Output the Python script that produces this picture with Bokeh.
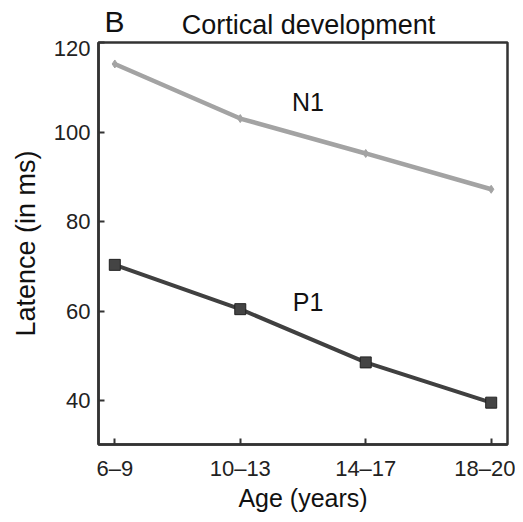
from bokeh.plotting import figure
from bokeh.models import Range1d, FixedTicker, Label
from bokeh.layouts import column
from bokeh.embed import file_html
from bokeh.resources import INLINE

ages = ["6–9", "10–13", "14–17", "18–20"]
n1 = [115.3, 103.1, 95.3, 87.3]
p1 = [70.4, 60.5, 48.6, 39.6]
y_ticks = [40, 60, 80, 100, 120]

xs = list(range(len(ages)))
FONT = "Liberation Sans"
W = 515
HEAD = 40
LEFT = 98
RIGHT = 8

# header with panel letter and title (frame aligned with the chart frame)
h = figure(width=W, height=HEAD, output_backend="svg", toolbar_location=None, title=None,
           x_axis_location=None, y_axis_location=None,
           x_range=Range1d(LEFT, W - RIGHT), y_range=Range1d(HEAD, 0),
           min_border_left=LEFT, min_border_right=RIGHT, min_border_top=0, min_border_bottom=0)
h.grid.visible = False
h.outline_line_color = None
h.background_fill_color = "white"
h.border_fill_color = "white"
h.add_layout(Label(x=114, y=21, text="B", text_font=FONT, text_font_size="30px",
                   text_align="center", text_baseline="middle", text_color="#111111"))
h.add_layout(Label(x=308, y=24, text="Cortical development", text_font=FONT,
                   text_font_size="27px", text_align="center", text_baseline="middle",
                   text_color="#111111"))

p = figure(width=W, height=514 - HEAD, output_backend="svg", toolbar_location=None, title=None,
           x_range=Range1d(-0.13, 3.13), y_range=Range1d(30.25, 120.1),
           min_border_left=LEFT, min_border_right=RIGHT, min_border_top=2, min_border_bottom=67)
p.grid.visible = False
p.background_fill_color = "white"
p.border_fill_color = "white"
p.outline_line_color = "#333333"
p.outline_line_width = 2.5
p.outline_line_alpha = 1

p.xaxis.ticker = FixedTicker(ticks=xs)
p.xaxis.major_label_overrides = {i: a for i, a in enumerate(ages)}
p.yaxis.ticker = FixedTicker(ticks=y_ticks)
for ax in (p.xaxis, p.yaxis):
    ax.axis_line_color = "#333333"
    ax.axis_line_width = 2.5
    ax.major_tick_in = 6
    ax.major_tick_out = 0
    ax.major_tick_line_color = "#333333"
    ax.major_tick_line_width = 2
    ax.minor_tick_line_color = None
    ax.major_label_text_font = FONT
    ax.major_label_text_font_size = "22px"
    ax.major_label_text_color = "#222222"
    ax.axis_label_text_font = FONT
    ax.axis_label_text_font_style = "normal"
    ax.axis_label_text_color = "#111111"
p.xaxis.axis_label = "Age (years)"
p.yaxis.axis_label = "Latence (in ms)"
p.xaxis.axis_label_text_font_size = "25px"
p.yaxis.axis_label_text_font_size = "27px"
p.xaxis.major_label_standoff = 11
p.yaxis.major_label_standoff = 8
p.xaxis.axis_label_standoff = 0
p.yaxis.axis_label_standoff = 10

p.line(xs, n1, line_color="#a3a3a3", line_width=4.5)
p.scatter(xs, n1, marker="diamond", size=8, fill_color="#a3a3a3", line_color="#a3a3a3")
p.line(xs, p1, line_color="#404040", line_width=4)
p.scatter(xs, p1, marker="square", size=11, fill_color="#444444", line_color="#222222", line_width=1)

p.add_layout(Label(x=1.54, y=106.8, text="N1", text_font=FONT, text_font_size="25px",
                   text_align="center", text_baseline="middle", text_color="#111111"))
p.add_layout(Label(x=1.54, y=62, text="P1", text_font=FONT, text_font_size="25px",
                   text_align="center", text_baseline="middle", text_color="#111111"))

layout = column(h, p, spacing=0)
open("out.html", "w").write(file_html(layout, INLINE))
